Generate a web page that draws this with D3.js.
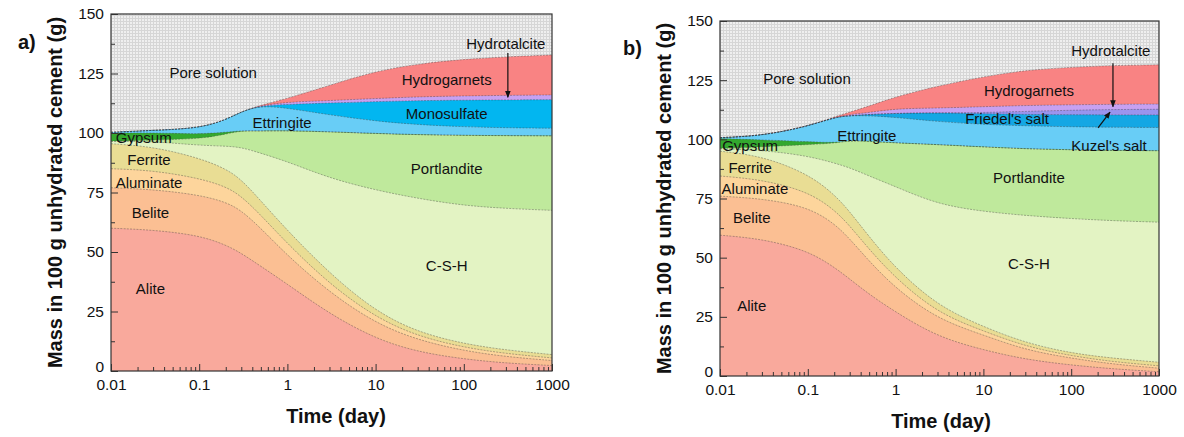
<!DOCTYPE html>
<html>
<head>
<meta charset="utf-8">
<script src="https://cdn.jsdelivr.net/npm/d3@7"></script>
<style>
body { margin: 0; background: #fff; }
text { font-family: "Liberation Sans", Arial, sans-serif; fill: #111; }
</style>
</head>
<body>
<div id="canvas"></div>
<script>
// time points (day) shared by both panels
const days = [0.01, 0.03, 0.1, 0.2, 0.3, 0.5, 1, 3, 10, 30, 100, 300, 1000];

// panel a) - mass of each phase (g)
const aliteA        = [60, 59.3, 57, 53, 49.5, 44, 36.5, 24, 13.5, 8, 5, 3.3, 2.3];
const beliteA       = [17, 17, 17, 18, 18, 16, 12, 9, 6.5, 5, 3.5, 2.7, 2.1];
const aluminateA    = [8, 8, 7, 6.5, 6, 5.5, 5, 3.5, 2.5, 1.6, 1.4, 1.3, 1.1];
const ferriteA      = [10.5, 10, 8.5, 7.5, 7, 6, 5.5, 4.5, 2.5, 1.7, 1.5, 1.5, 1.4];
const cshA          = [1, 2.2, 5.3, 9.5, 13.5, 20, 29, 40, 51, 56.2, 58.1, 59.5, 60.6];
const portlanditeA  = [0, 0.6, 2.7, 5, 7, 9.3, 13, 19.5, 23.8, 26.8, 29.5, 30.6, 31.3];
const gypsumA       = [3.5, 3, 2, 0.8, 0, 0, 0, 0, 0, 0, 0, 0, 0];
const ettringiteA   = [0.3, 1, 2.5, 5.2, 8, 10.7, 9.5, 7.1, 5.2, 4.2, 3.6, 3.3, 3.2];
const monosulfateA  = [0, 0, 0, 0, 0, 0, 1.5, 5, 8.2, 10.1, 11.2, 11.7, 12];
const hydrotalciteA = [0, 0, 0, 0, 0, 0.1, 1, 1, 1.3, 1.6, 1.8, 1.9, 2];
const hydrogarnetA  = [0, 0, 0, 0, 0, 0.1, 1.5, 6.4, 11.5, 13.8, 15.4, 16.2, 16.8];

// panel b)
const aliteB        = [59.5, 58, 53, 46, 41, 34.5, 27, 16.5, 11, 7, 4.6, 3, 1.8];
const beliteB       = [16.5, 17, 18.5, 18.5, 17, 14, 10, 7.5, 6.3, 4, 2.9, 2, 1.5];
const aluminateB    = [8.5, 8, 6.5, 5.8, 5.5, 5, 4.3, 2.6, 1.7, 1.5, 1, 1, 1];
const ferriteB      = [10.5, 10, 7.5, 6.5, 6, 5.3, 4.2, 3, 1.8, 1.5, 1.1, 1.5, 1.5];
const cshB          = [1, 2.5, 7.5, 13.2, 18.5, 25.7, 34.5, 42.9, 48.7, 53.8, 56.9, 58.1, 59.2];
const portlanditeB  = [0.2, 1.3, 4.8, 8.3, 11.5, 14.7, 18.5, 25.3, 27.3, 28.2, 29.1, 29.7, 30.2];
const gypsumB       = [4.1, 3, 1.2, 0.2, 0, 0, 0, 0, 0, 0, 0, 0, 0];
const ettringiteB   = [0.4, 1.7, 6.5, 10.8, 10.5, 10.8, 10.8, 9.7, 9.5, 9.7, 9.7, 9.8, 9.8];
const friedelB      = [0, 0, 0, 0, 0, 0.5, 1.7, 3.7, 4.5, 4.8, 5.1, 5.2, 5.3];
const kuzelB        = [0, 0, 0, 0, 0, 0, 0, 0, 0.5, 1.3, 1.9, 2.3, 2.4];
const hydrotalciteB = [0, 0, 0, 0, 0.5, 0.8, 2, 2, 2.5, 2.5, 2.3, 2.2, 2.2];
const hydrogarnetB  = [0, 0, 0, 0.2, 1, 2.7, 5, 9.3, 12.7, 14.9, 15.9, 16.4, 16.6];

// axis ticks
const xTicks = [0.01, 0.1, 1, 10, 100, 1000];
const xTickLabels = ["0.01", "0.1", "1", "10", "100", "1000"];
const yTicks = [0, 25, 50, 75, 100, 125, 150];

// annotations (text, day, mass)
const labelsA = [
  ["Pore solution", 0.144, 125.6], ["Hydrogarnets", 64, 122.3], ["Hydrotalcite", 300, 137.4],
  ["Monosulfate", 64, 108], ["Ettringite", 0.87, 104.3], ["Gypsum", 0.0235, 98.3],
  ["Ferrite", 0.027, 89], ["Aluminate", 0.027, 79.4], ["Belite", 0.028, 66.8],
  ["Portlandite", 64, 84.9], ["C-S-H", 64, 44.5], ["Alite", 0.028, 34.5]
];
const labelsB = [
  ["Pore solution", 0.098, 125.9], ["Hydrogarnets", 33, 120.8], ["Hydrotalcite", 283, 137.7],
  ["Friedel's salt", 18.6, 109], ["Kuzel's salt", 270, 97.6], ["Ettringite", 0.47, 101.8],
  ["Gypsum", 0.022, 97.6], ["Ferrite", 0.022, 88.3], ["Aluminate", 0.025, 79.4],
  ["Belite", 0.023, 66.8], ["Portlandite", 33, 84], ["C-S-H", 33, 47.7], ["Alite", 0.023, 30]
];
const arrowsA = [[316, 133.6, 316, 115]];
const arrowsB = [[299, 132.2, 299, 113.8], [202, 104.8, 277, 111.5]];

const colors = {
  "Alite": "#f9a99c", "Belite": "#fbbf93", "Aluminate": "#fdd59c", "Ferrite": "#e9dd94",
  "C-S-H": "#e3f3c3", "Portlandite": "#bfe99c", "Gypsum": "#33a82e", "Ettringite": "#68cdf6",
  "Monosulfate": "#02b6f0", "Friedel's salt": "#14a7e4", "Kuzel's salt": "#9a94ee",
  "Hydrotalcite": "#c7a1f1", "Hydrogarnets": "#f98383"
};

const panels = [
  {
    tag: "a)", left: 111, right: 552, top: 14, bottom: 371, tagX: 18, tagY: 49, titleX: 62, xTitleX: 336, xTitleY: 423,
    series: { "Alite": aliteA, "Belite": beliteA, "Aluminate": aluminateA, "Ferrite": ferriteA, "C-S-H": cshA,
              "Portlandite": portlanditeA, "Gypsum": gypsumA, "Ettringite": ettringiteA, "Monosulfate": monosulfateA,
              "Hydrotalcite": hydrotalciteA, "Hydrogarnets": hydrogarnetA },
    labels: labelsA, arrows: arrowsA
  },
  {
    tag: "b)", left: 720, right: 1159, top: 21, bottom: 376, tagX: 623, tagY: 55, titleX: 671, xTitleX: 941, xTitleY: 428,
    series: { "Alite": aliteB, "Belite": beliteB, "Aluminate": aluminateB, "Ferrite": ferriteB, "C-S-H": cshB,
              "Portlandite": portlanditeB, "Gypsum": gypsumB, "Ettringite": ettringiteB, "Friedel's salt": friedelB,
              "Kuzel's salt": kuzelB, "Hydrotalcite": hydrotalciteB, "Hydrogarnets": hydrogarnetB },
    labels: labelsB, arrows: arrowsB
  }
];

const svg = d3.select("#canvas").append("svg")
    .attr("width", 1184)
    .attr("height", 437);

const defs = svg.append("defs");
const pat = defs.append("pattern")
    .attr("id", "pore")
    .attr("patternUnits", "userSpaceOnUse")
    .attr("width", 3).attr("height", 3);
pat.append("rect").attr("width", 3).attr("height", 3).attr("fill", "#efefef");
pat.append("path").attr("d", "M0 0.5H3M0.5 0V3").attr("stroke", "#d6d6d6").attr("stroke-width", 1);

defs.append("marker")
    .attr("id", "arrow")
    .attr("viewBox", "0 0 10 10")
    .attr("refX", 9).attr("refY", 5)
    .attr("markerWidth", 7).attr("markerHeight", 7)
    .attr("markerUnits", "userSpaceOnUse")
    .attr("orient", "auto")
  .append("path")
    .attr("d", "M0 1L10 5L0 9Z")
    .attr("fill", "#111");

panels.forEach(drawPanel);

function drawPanel(p) {
  const keys = Object.keys(p.series);
  const x = d3.scaleLog().domain([0.01, 1000]).range([p.left, p.right]);
  const y = d3.scaleLinear().domain([0, 150]).range([p.bottom, p.top]);

  const rows = days.map((t, i) => {
    const r = { t: t };
    keys.forEach(k => r[k] = p.series[k][i]);
    return r;
  });
  const stacked = d3.stack().keys(keys)(rows);

  const g = svg.append("g");

  // pore solution fills everything above the solids
  g.append("rect")
      .attr("x", p.left).attr("y", p.top)
      .attr("width", p.right - p.left).attr("height", p.bottom - p.top)
      .attr("fill", "url(#pore)");

  // paint cumulative areas from the top layer down so there are no seams
  const area = d3.area()
      .curve(d3.curveBasis)
      .x(d => x(d.data.t))
      .y0(y(0))
      .y1(d => y(d[1]));

  g.selectAll("path.layer")
      .data(stacked.slice().reverse())
    .enter().append("path")
      .attr("class", "layer")
      .attr("d", area)
      .attr("fill", d => colors[d.key]);

  const line = d3.line()
      .curve(d3.curveBasis)
      .x(d => x(d.data.t))
      .y(d => y(d[1]));

  g.selectAll("path.edge")
      .data(stacked)
    .enter().append("path")
      .attr("class", "edge")
      .attr("d", line)
      .attr("fill", "none")
      .attr("stroke", "#3a3a3a")
      .attr("stroke-opacity", 0.55)
      .attr("stroke-width", 0.7)
      .attr("stroke-dasharray", "2,1.2");

  // axes
  const minorX = [];
  [0.01, 0.1, 1, 10, 100].forEach(dec => { for (let m = 2; m <= 9; m++) minorX.push(dec * m); });
  const minorY = [12.5, 37.5, 62.5, 87.5, 112.5, 137.5];

  const xAxis = d3.axisBottom(x)
      .tickValues(xTicks)
      .tickFormat((d, i) => xTickLabels[i])
      .tickSizeInner(-7).tickSizeOuter(0).tickPadding(8);
  const xMinor = d3.axisBottom(x).tickValues(minorX).tickFormat("").tickSizeInner(-4).tickSizeOuter(0);
  const yAxis = d3.axisLeft(y).tickValues(yTicks).tickSizeInner(-7).tickSizeOuter(0).tickPadding(7);
  const yMinor = d3.axisLeft(y).tickValues(minorY).tickFormat("").tickSizeInner(-4).tickSizeOuter(0);

  [[xAxis, "x"], [xMinor, "x"], [yAxis, "y"], [yMinor, "y"]].forEach(([ax, dir]) => {
    const ga = g.append("g")
        .attr("transform", dir === "x" ? "translate(0," + p.bottom + ")" : "translate(" + p.left + ",0)")
        .call(ax);
    ga.select(".domain").remove();
    ga.selectAll("line").attr("stroke", "#333").attr("stroke-width", 1);
    ga.selectAll("text")
        .style("font-family", '"Liberation Sans", Arial, sans-serif')
        .style("font-size", "15.5px")
        .attr("fill", "#222");
    if (ax === yAxis) ga.selectAll("text").filter(d => d === 0).attr("dy", "0.05em");
  });

  g.append("rect")
      .attr("x", p.left).attr("y", p.top)
      .attr("width", p.right - p.left).attr("height", p.bottom - p.top)
      .attr("fill", "none")
      .attr("stroke", "#333")
      .attr("stroke-width", 1.2);

  // labels and arrows
  g.selectAll("text.lab")
      .data(p.labels)
    .enter().append("text")
      .attr("class", "lab")
      .attr("x", d => x(d[1]))
      .attr("y", d => y(d[2]))
      .attr("text-anchor", "middle")
      .attr("dominant-baseline", "central")
      .style("font-size", "15px")
      .text(d => d[0]);

  g.selectAll("line.arr")
      .data(p.arrows)
    .enter().append("line")
      .attr("class", "arr")
      .attr("x1", d => x(d[0])).attr("y1", d => y(d[1]))
      .attr("x2", d => x(d[2])).attr("y2", d => y(d[3]))
      .attr("stroke", "#111")
      .attr("stroke-width", 1.2)
      .attr("marker-end", "url(#arrow)");

  // titles
  g.append("text")
      .attr("transform", "translate(" + p.titleX + "," + ((p.top + p.bottom) / 2) + ") rotate(-90)")
      .attr("text-anchor", "middle")
      .style("font-size", "20px")
      .style("font-weight", "bold")
      .text("Mass in 100 g unhydrated cement (g)");

  g.append("text")
      .attr("x", p.xTitleX).attr("y", p.xTitleY)
      .attr("text-anchor", "middle")
      .style("font-size", "20px")
      .style("font-weight", "bold")
      .text("Time (day)");

  g.append("text")
      .attr("x", p.tagX).attr("y", p.tagY)
      .style("font-size", "20px")
      .style("font-weight", "bold")
      .text(p.tag);
}
</script>
</body>
</html>
